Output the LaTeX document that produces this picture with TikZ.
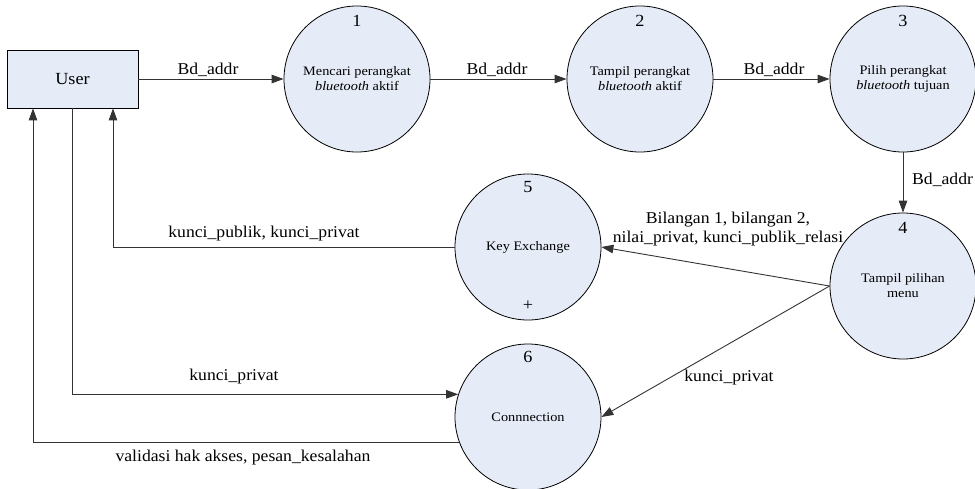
\documentclass[tikz,border=0pt]{standalone}
\usepackage{fontspec}
\setmainfont{Liberation Serif}
\newfontfamily\labelface{Liberation Serif}[FakeStretch=1.07]
\newfontfamily\procface{Liberation Serif}[FakeStretch=1.1]
\usetikzlibrary{arrows.meta}
\definecolor{procfill}{RGB}{230,236,247}
\begin{document}
\begin{tikzpicture}[x=1pt,y=-1pt,
  proc/.style={circle,draw=black,line width=0.8pt,fill=procfill,minimum size=146pt,
    inner sep=0pt,align=center,font=\procface\fontsize{13}{15}\selectfont},
  entity/.style={rectangle,draw=black,line width=0.8pt,fill=procfill,
    minimum width=131pt,minimum height=58pt,font=\labelface\fontsize{17}{20}\selectfont},
  num/.style={font=\labelface\fontsize{17}{20}\selectfont,inner sep=0pt},
  flow/.style={draw=black!80,line width=0.9pt,-{Triangle[length=12pt,width=8.5pt]}},
  lbl/.style={font=\labelface\fontsize{16.5}{19.5}\selectfont,inner sep=0pt,align=center}]
\useasboundingbox (0,0) rectangle (975,488);

% external entity
\node[entity] (user) at (72.5,79) {User};

% processes
\node[proc] (c1) at (357,79) {Mencari perangkat\\\textit{bluetooth} aktif};
\node[proc] (c2) at (640,79) {Tampil perangkat\\\textit{bluetooth} aktif};
\node[proc] (c3) at (903,79) {Pilih perangkat\\\textit{bluetooth} tujuan};
\node[proc] (c4) at (903,286) {Tampil pilihan\\menu};
\node[proc] (c5) at (528,247) {Key Exchange};
\node[proc] (c6) at (528,417) {Connnection};

% process numbers
\node[num] (n1) at ([yshift=-15pt]c1.north) {1};
\node[num] (n2) at ([yshift=-15pt]c2.north) {2};
\node[num] (n3) at ([yshift=-15pt]c3.north) {3};
\node[num] (n4) at ([yshift=-15pt]c4.north) {4};
\node[num] (n5) at ([yshift=-13pt]c5.north) {5};
\node[num] (n6) at ([yshift=-13pt]c6.north) {6};
\node[num] (plus) at ([yshift=15pt]c5.south) {+};

% connection points on the entity box
\coordinate (uinR) at ([xshift=40.5pt]user.south);
\coordinate (uinL) at ([xshift=-39.5pt]user.south);

% data flows
\draw[flow] (user) -- (c1);
\draw[flow] (c1) -- (c2);
\draw[flow] (c2) -- (c3);
\draw[flow] (c3) -- (c4);
\draw[flow] (c4.west) -- (c5.east);
\draw[flow] (c4.west) -- (c6.east);
\draw[flow] (c5.west) -| (uinR);
\draw[flow] (user.south) |- (c6.162.5);
\draw[flow] (c6.200.9) -| (uinL);

% flow labels
\node[lbl] (l1) at (208,70) {Bd\_addr};
\node[lbl] (l2) at (497,70) {Bd\_addr};
\node[lbl] (l3) at (774,70) {Bd\_addr};
\node[lbl,anchor=west] (l4) at (912,180) {Bd\_addr};
\node[lbl] (l5) at (728,229) {Bilangan 1, bilangan 2,\\nilai\_privat, kunci\_publik\_relasi};
\node[lbl] (l6) at (729,378) {kunci\_privat};
\node[lbl] (l7) at (264,234) {kunci\_publik, kunci\_privat};
\node[lbl] (l8) at (234,377) {kunci\_privat};
\node[lbl] (l9) at (243,458) {validasi hak akses, pesan\_kesalahan};
\end{tikzpicture}
\end{document}
